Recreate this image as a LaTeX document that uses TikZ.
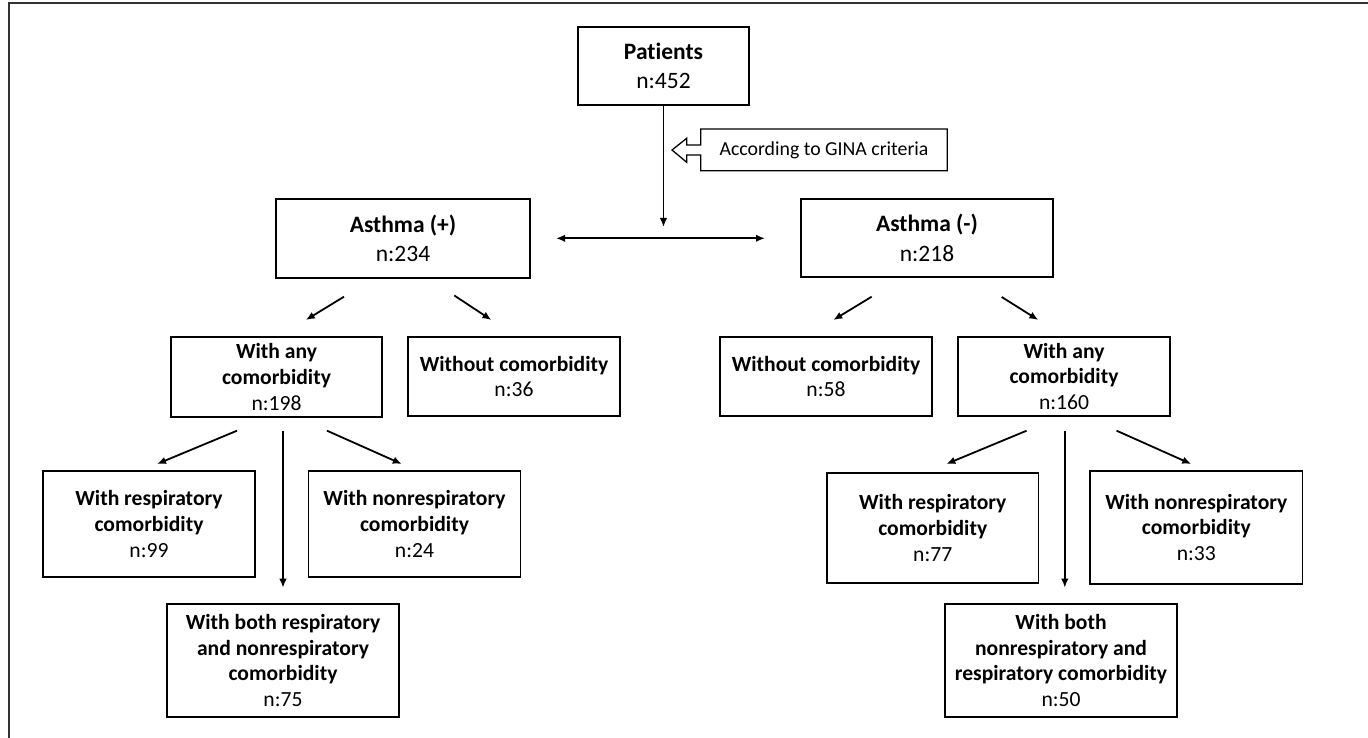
\documentclass[tikz,border=0pt]{standalone}
\usepackage{fontspec}
\setmainfont{Carlito}[Ligatures=NoCommon]
\usetikzlibrary{arrows.meta}
\begin{document}
\begin{tikzpicture}[x=1pt,y=-1pt,
  box/.style={draw, line width=1.3pt, align=center, inner sep=0pt, anchor=center},
  big/.style={font=\fontsize{23.5}{29.5}\selectfont},
  small/.style={font=\fontsize{21.6}{25.6}\selectfont},
  arr/.style={line width=1.8pt, -{Latex[length=9pt,width=7.5pt]}},
  darr/.style={line width=1.8pt, {Latex[length=9pt,width=7.5pt]}-{Latex[length=9pt,width=7.5pt]}}]
\useasboundingbox (0,0) rectangle (1368,738);
% frame
\draw[line width=2pt, black!80] (8.5,738) -- (8.5,3) -- (1368,3);

% top
\node[box,big,minimum width=171pt,minimum height=78pt] (pat) at (663.5,66) {\textbf{Patients}\\n:452};
\node[box,big,minimum width=254pt,minimum height=79pt] (ap) at (403,238.5) {\textbf{Asthma (+)}\\n:234};
\node[box,big,minimum width=252pt,minimum height=78pt] (am) at (927,238) {\textbf{Asthma (-)}\\n:218};

% callout
\draw[line width=1.3pt] (700.7,129) -- (947.3,129) -- (947.3,170.7) -- (700.7,170.7) -- (700.7,155) -- (686.7,155) -- (686.7,162.3) -- (672,150) -- (686.7,138.3) -- (686.7,145) -- (700.7,145) -- cycle;
\node[font=\fontsize{19.8}{23}\selectfont, inner sep=0pt] (gina) at (824,150) {According to GINA criteria};

% second level
\node[box,small,minimum width=211pt,minimum height=80pt] (wap) at (276.5,377) {\textbf{With any}\\\textbf{comorbidity}\\n:198};
\node[box,small,minimum width=212pt,minimum height=79pt] (wop) at (514,376.5) {\textbf{Without comorbidity}\\n:36};
\node[box,small,minimum width=212pt,minimum height=79pt] (wom) at (826,376.5) {\textbf{Without comorbidity}\\n:58};
\node[box,small,minimum width=212pt,minimum height=79pt] (wam) at (1064,376.5) {\textbf{With any}\\\textbf{comorbidity}\\n:160};

% third level
\node[box,small,minimum width=212pt,minimum height=106pt] (rp) at (149,524) {\textbf{With respiratory}\\\textbf{comorbidity}\\n:99};
\node[box,small,minimum width=212pt,minimum height=106pt] (np) at (414.5,524) {\textbf{With nonrespiratory}\\\textbf{comorbidity}\\n:24};
\node[box,small,minimum width=232pt,minimum height=113pt] (bp) at (283,660.5) {\textbf{With both respiratory}\\\textbf{and nonrespiratory}\\\textbf{comorbidity}\\n:75};
\node[box,small,minimum width=211.5pt,minimum height=110pt] (rm) at (932.75,528) {\textbf{With respiratory}\\\textbf{comorbidity}\\n:77};
\node[box,small,minimum width=212.5pt,minimum height=113pt] (nm) at (1196.3,527.5) {\textbf{With nonrespiratory}\\\textbf{comorbidity}\\n:33};
\node[box,small,minimum width=232pt,minimum height=113pt] (bm) at (1061,660.5) {\textbf{With both}\\\textbf{nonrespiratory and}\\\textbf{respiratory comorbidity}\\n:50};

% connectors
\coordinate (vend) at (663.5,227);
\draw[arr] (pat.south) -- (vend);
\coordinate (hl) at (556,238.3);
\coordinate (hr) at (765,238.3);
\draw[darr] (hl) -- (hr);

\coordinate (a1s) at (344,296.7);   \coordinate (a1e) at (305.8,320);
\coordinate (a2s) at (454.3,295.5); \coordinate (a2e) at (491.4,320);
\coordinate (a3s) at (871.7,296.7); \coordinate (a3e) at (833.3,320);
\coordinate (a4s) at (1001.7,297);  \coordinate (a4e) at (1038.3,320);
\draw[arr] (a1s) -- (a1e);
\draw[arr] (a2s) -- (a2e);
\draw[arr] (a3s) -- (a3e);
\draw[arr] (a4s) -- (a4e);

\coordinate (b1s) at (237,430.7);   \coordinate (b1e) at (157,464);
\coordinate (b2s) at (283,430.7);   \coordinate (b2e) at (283,587.7);
\coordinate (b3s) at (327,430.7);   \coordinate (b3e) at (401.8,464);
\coordinate (c1s) at (1026.6,430.7); \coordinate (c1e) at (946.3,464);
\coordinate (c2s) at (1064.8,430.7); \coordinate (c2e) at (1064.8,587.7);
\coordinate (c3s) at (1116.6,430.7); \coordinate (c3e) at (1191.2,464);
\draw[arr] (b1s) -- (b1e);
\draw[arr] (b2s) -- (b2e);
\draw[arr] (b3s) -- (b3e);
\draw[arr] (c1s) -- (c1e);
\draw[arr] (c2s) -- (c2e);
\draw[arr] (c3s) -- (c3e);
\end{tikzpicture}
\end{document}
